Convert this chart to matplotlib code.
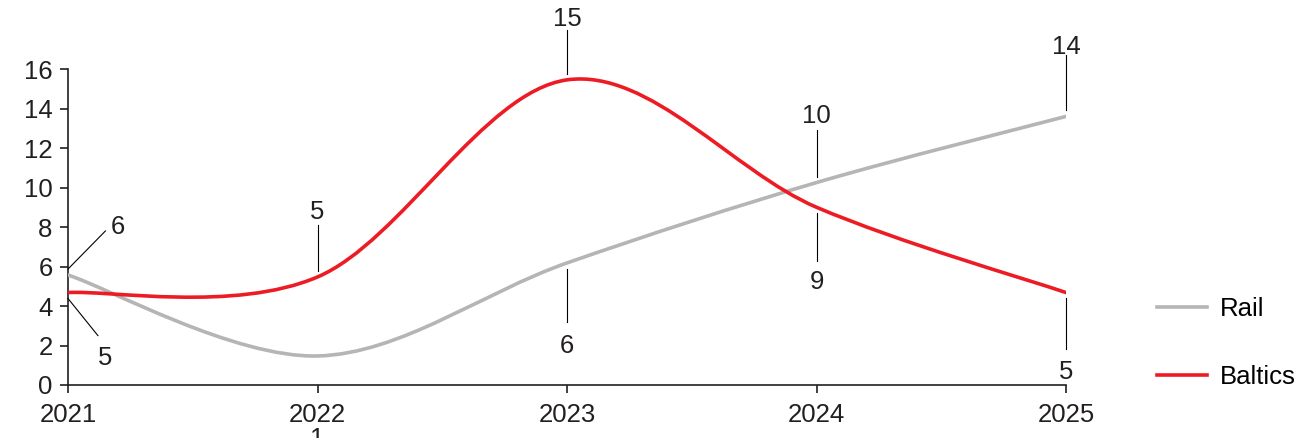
import matplotlib.pyplot as plt
from matplotlib.path import Path
from matplotlib.patches import PathPatch
from matplotlib.lines import Line2D

plt.rcParams['font.family'] = ['Liberation Sans', 'DejaVu Sans']

years = [2021, 2022, 2023, 2024, 2025]
rail = [5.57, 1.47, 6.18, 10.25, 13.6]
baltics = [4.68, 5.47, 15.45, 9.0, 4.68]
rail_labels = ['6', '1', '6', '10', '14']
baltics_labels = ['5', '5', '15', '9', '5']

# label text positions (data coords); None -> no leader line
rail_text = [(2021.2, 8.0), (2022.0, -2.75), (2023.0, 1.95), (2024.0, 13.6), (2025.0, 17.1)]
baltics_text = [(2021.15, 1.35), (2022.0, 8.75), (2023.0, 18.55), (2024.0, 5.2), (2025.0, 0.65)]
rail_lead = [(2021.15, 7.8), None, (2023.0, 3.2), (2024.0, 12.9), (2025.0, 16.7)]
baltics_lead = [(2021.12, 2.5), (2022.0, 8.1), (2023.0, 18.0), (2024.0, 6.3), (2025.0, 1.8)]

RAIL_C = '#b5b5b5'
BALT_C = '#ed1c24'
TXT_C = '#231f20'
FS = 18.5


def smooth_path(xs, ys):
    # Catmull-Rom style bezier, like a spreadsheet "smoothed line"
    pts = list(zip(xs, ys))
    verts = [pts[0]]
    codes = [Path.MOVETO]
    n = len(pts)
    for i in range(n - 1):
        p0 = pts[i - 1] if i > 0 else pts[i]
        p1 = pts[i]
        p2 = pts[i + 1]
        p3 = pts[i + 2] if i + 2 < n else pts[i + 1]
        c1 = (p1[0] + (p2[0] - p0[0]) / 6, p1[1] + (p2[1] - p0[1]) / 6)
        c2 = (p2[0] - (p3[0] - p1[0]) / 6, p2[1] - (p3[1] - p1[1]) / 6)
        verts += [c1, c2, p2]
        codes += [Path.CURVE4] * 3
    return Path(verts, codes)


fig = plt.figure(figsize=(13.12, 4.38), dpi=100)
ax = fig.add_axes([68 / 1312, 1 - 385 / 438, (1066 - 68) / 1312, (385 - 69) / 438])

ax.add_patch(PathPatch(smooth_path(years, rail), fill=False, edgecolor=RAIL_C,
                       linewidth=2.6, capstyle='round', zorder=3))
ax.add_patch(PathPatch(smooth_path(years, baltics), fill=False, edgecolor=BALT_C,
                       linewidth=2.6, capstyle='round', zorder=4))

for x, y, lab, tp, lp in zip(years, rail, rail_labels, rail_text, rail_lead):
    ax.text(tp[0], tp[1], lab, fontsize=FS, color=TXT_C, ha='center', va='center', clip_on=False)
    if lp is not None:
        ax.add_line(Line2D([x, lp[0]], [y + 0.3 if y < lp[1] else y - 0.3, lp[1]],
                           color='black', linewidth=0.8, clip_on=False, zorder=5))

for x, y, lab, tp, lp in zip(years, baltics, baltics_labels, baltics_text, baltics_lead):
    ax.text(tp[0], tp[1], lab, fontsize=FS, color=TXT_C, ha='center', va='center', clip_on=False)
    ax.add_line(Line2D([x, lp[0]], [y + 0.3 if y < lp[1] else y - 0.3, lp[1]],
                       color='black', linewidth=0.8, clip_on=False, zorder=5))

ax.set_xlim(2021, 2025)
ax.set_ylim(0, 16)
ax.set_xticks(years)
ax.set_yticks(range(0, 17, 2))
for s in ['top', 'right']:
    ax.spines[s].set_visible(False)
for s in ['left', 'bottom']:
    ax.spines[s].set_color(TXT_C)
    ax.spines[s].set_linewidth(1.2)
ax.tick_params(axis='both', labelsize=FS, colors=TXT_C, length=6, width=1.2, direction='out')
ax.tick_params(axis='x', pad=7)
ax.tick_params(axis='y', pad=5)

handles = [Line2D([], [], color=RAIL_C, linewidth=2.6),
           Line2D([], [], color=BALT_C, linewidth=2.6)]
fig.legend(handles, ['Rail', 'Baltics'], loc='center left', bbox_to_anchor=(1157 / 1312, 1 - 343 / 438),
           frameon=False, fontsize=FS, handlelength=1.95, labelspacing=1.75, handletextpad=0.5,
           borderpad=0, borderaxespad=0)

fig.savefig('out.png', dpi=100)
